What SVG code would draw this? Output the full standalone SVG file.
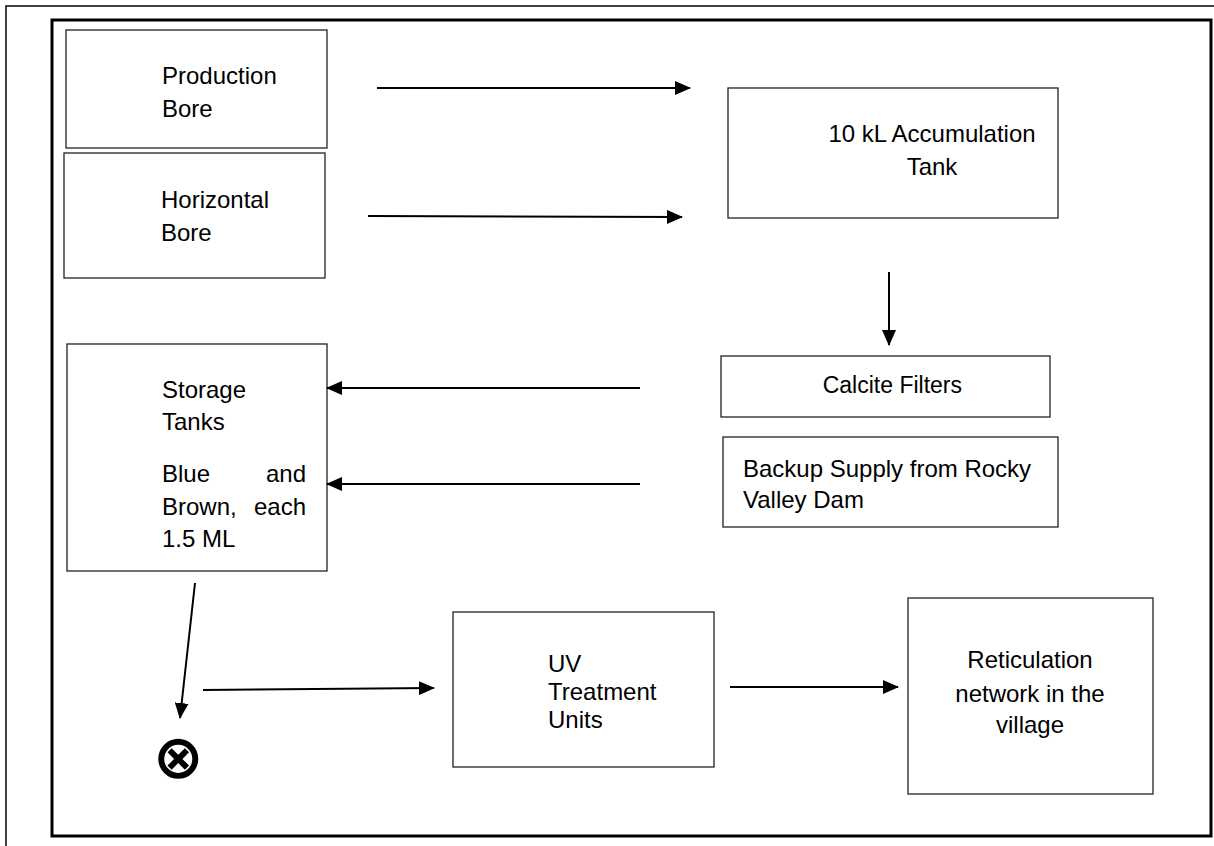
<svg xmlns="http://www.w3.org/2000/svg" width="1214" height="846" viewBox="0 0 1214 846">
<style>
.box{fill:#fff;stroke:#222;stroke-width:1.3}
.t{font-family:"Liberation Sans",Arial,sans-serif;font-size:24px;fill:#000}
.c{text-anchor:middle}
.e{text-anchor:end}
.ln{stroke:#000;stroke-width:2;fill:none;marker-end:url(#ah)}
</style>
<defs>
<marker id="ah" markerUnits="userSpaceOnUse" markerWidth="16" markerHeight="14" refX="15" refY="7" orient="auto">
<path d="M0,0 L16,7 L0,14 z" fill="#000"/>
</marker>
</defs>
<rect width="1214" height="846" fill="#fff"/>
<g id="frame">
<path d="M6,846 L6,6 L1214,6" fill="none" stroke="#000" stroke-width="1.5"/>
<rect x="52" y="20" width="1159" height="816" fill="none" stroke="#000" stroke-width="3"/>
</g>
<g id="production-bore">
<rect class="box" x="66" y="30" width="261" height="118"/>
<text class="t" x="162" y="84">Production</text>
<text class="t" x="162" y="117">Bore</text>
</g>
<g id="horizontal-bore">
<rect class="box" x="64" y="153" width="261" height="125"/>
<text class="t" x="161" y="208">Horizontal</text>
<text class="t" x="161" y="241">Bore</text>
</g>
<g id="accumulation-tank">
<rect class="box" x="728" y="88" width="330" height="130"/>
<text class="t c" x="932" y="142">10 kL Accumulation</text>
<text class="t c" x="932" y="175">Tank</text>
</g>
<g id="calcite-filters">
<rect class="box" x="721" y="356" width="329" height="61"/>
<text class="t e" x="962" y="393" style="font-size:23px">Calcite Filters</text>
</g>
<g id="backup-supply">
<rect class="box" x="723" y="437" width="335" height="90"/>
<text class="t" x="743" y="477">Backup Supply from Rocky</text>
<text class="t" x="743" y="508">Valley Dam</text>
</g>
<g id="storage-tanks">
<rect class="box" x="67" y="344" width="260" height="227"/>
<text class="t" x="162" y="398">Storage</text>
<text class="t" x="162" y="430">Tanks</text>
<text class="t" x="162" y="482">Blue</text>
<text class="t e" x="306" y="482">and</text>
<text class="t" x="162" y="515">Brown,</text>
<text class="t e" x="306" y="515">each</text>
<text class="t" x="162" y="547">1.5 ML</text>
</g>
<g id="junction">
<text x="178" y="778" text-anchor="middle" font-family="DejaVu Sans,sans-serif" font-weight="bold" font-size="61">⊗</text>
</g>
<g id="uv-treatment">
<rect class="box" x="453" y="612" width="261" height="155"/>
<text class="t" x="548" y="672">UV</text>
<text class="t" x="548" y="700">Treatment</text>
<text class="t" x="548" y="728">Units</text>
</g>
<g id="reticulation">
<rect class="box" x="908" y="598" width="245" height="196"/>
<text class="t c" x="1030" y="668">Reticulation</text>
<text class="t c" x="1030" y="702">network in the</text>
<text class="t c" x="1030" y="733">village</text>
</g>
<g id="connectors">
<line class="ln" x1="377" y1="88" x2="690" y2="88"/>
<line class="ln" x1="368" y1="216" x2="682" y2="217"/>
<line class="ln" x1="889" y1="272" x2="889" y2="345"/>
<line class="ln" x1="640" y1="388" x2="327" y2="388"/>
<line class="ln" x1="640" y1="484" x2="327" y2="484"/>
<line class="ln" x1="195" y1="583" x2="180" y2="718"/>
<line class="ln" x1="203" y1="690" x2="434" y2="688"/>
<line class="ln" x1="730" y1="687" x2="898" y2="687"/>
</g>
</svg>
